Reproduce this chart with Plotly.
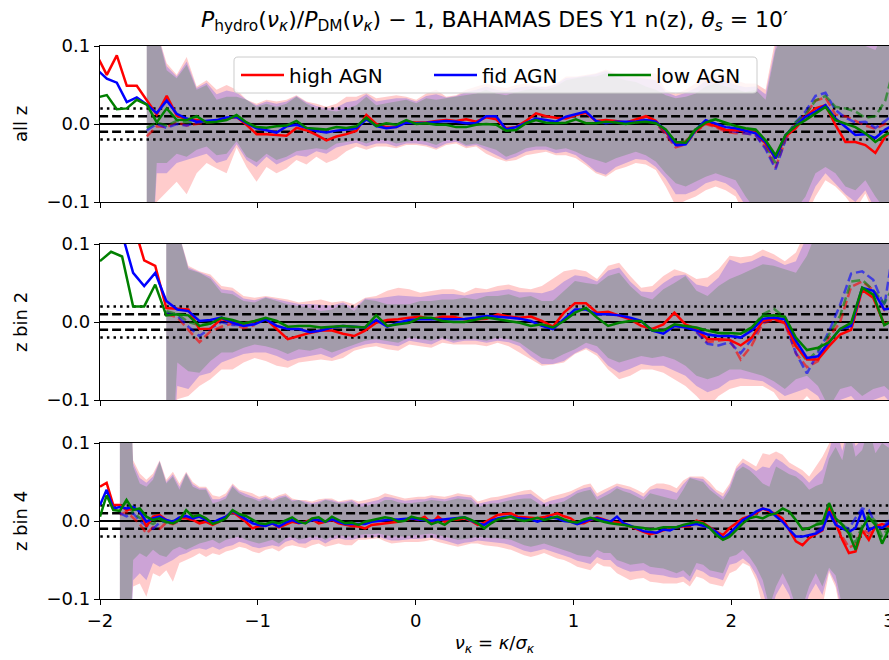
import numpy as np
import plotly.graph_objects as go

# ---------------- data ----------------
MODELS = ["high AGN", "fid AGN", "low AGN"]
LINE_COLORS = ["#ff0000", "#0000ff", "#008000"]
FILL_COLORS = ["rgba(255,0,0,0.2)", "rgba(0,0,255,0.2)", "rgba(0,128,0,0.2)"]
DASH_COLORS = ["rgba(255,0,0,0.6)", "rgba(0,0,255,0.6)", "rgba(0,128,0,0.6)"]
PANEL_LABELS = ["all z", "z bin 2", "z bin 4"]
X_TICKS = [-2, -1, 0, 1, 2, 3]
Y_TICKS = [-0.1, 0.0, 0.1]
REF_LEVELS = [0.02, -0.02, 0.01, -0.01, 0.0]
REF_STYLES = ["dot", "dot", "dash", "dash", "solid"]

# nu_kappa bin centres of each panel
NU_ALLZ = np.linspace(-2.02, 3.04, 81)
NU_BIN2 = np.linspace(-2.0, 3.04, 73)
NU_BIN4 = np.linspace(-2.0, 3.04, 121)

# ---- panel 1 : all z ----
ALLZ_HIGH = [0.088, 0.063, 0.088, 0.049, 0.049, 0.031, 0.012, 0.036, 0.011, 0.006,
             0.005, 0.003, 0.004, 0.007, 0.009, -0.001, -0.013, -0.013, -0.014, -0.015,
             -0.005, -0.008, -0.014, -0.021, -0.016, -0.013, -0.009, 0.0115, 0.0, -0.004,
             -0.004, 0.003, 0.002, 0.002, 0.004, 0.005, 0.004, 0.006, 0.003, 0.0085,
             0.006, -0.0055, -0.004, 0.004, 0.0137, 0.010, 0.008, 0.007, 0.0115, 0.0145,
             0.004, 0.005, 0.004, 0.002, 0.006, 0.010, 0.004, -0.011, -0.025, -0.023,
             -0.0085, 0.001, -0.0026, -0.0077, -0.0085, -0.0085, -0.011, -0.025, -0.044, -0.016,
             -0.0055, 0.0094, 0.020, 0.024, -0.001, -0.023, -0.023, -0.027, -0.037, -0.016,
             -0.005]
ALLZ_FID = [0.070, 0.058, 0.053, 0.028, 0.034, 0.025, 0.014, 0.030, 0.013, 0.007,
            0.003, 0.004, 0.005, 0.0085, 0.009, 0.001, -0.0055, -0.008, -0.011, -0.003,
            -0.001, -0.005, -0.009, -0.011, -0.0085, -0.007, -0.0055, 0.006, -0.0026, -0.0055,
            -0.004, 0.0017, 0.001, 0.0017, 0.003, 0.004, 0.003, 0.001, 0.001, 0.010,
            0.010, -0.0068, -0.004, 0.0017, 0.007, 0.005, 0.003, 0.0094, 0.0128, 0.016,
            0.004, 0.001, 0.003, 0.003, 0.003, 0.005, 0.003, -0.008, -0.027, -0.026,
            -0.0077, 0.005, 0.001, -0.004, -0.0055, -0.0085, -0.012, -0.023, -0.044, -0.014,
            -0.0026, 0.0094, 0.016, 0.024, 0.007, -0.004, -0.014, -0.013, -0.018, -0.007,
            0.0]
ALLZ_LOW = [0.034, 0.037, 0.019, 0.020, 0.031, 0.025, 0.002, 0.020, 0.0055, 0.005,
            0.010, 0.002, 0.003, 0.005, 0.0115, 0.002, -0.004, -0.0047, -0.003, -0.002,
            0.004, -0.005, -0.006, -0.007, -0.004, -0.005, -0.003, 0.008, -0.0026, 0.001,
            -0.001, 0.005, 0.0, 0.001, -0.001, -0.001, -0.004, -0.004, -0.001, 0.0,
            -0.001, -0.0085, -0.0077, 0.001, 0.005, 0.0017, 0.001, 0.0017, 0.006, 0.001,
            0.001, 0.003, 0.002, 0.0, 0.002, 0.003, 0.001, -0.007, -0.023, -0.024,
            -0.007, 0.0017, 0.006, 0.0017, -0.0026, -0.0055, -0.007, -0.021, -0.040, -0.014,
            -0.0026, 0.005, 0.0137, 0.022, 0.005, 0.001, -0.004, -0.012, -0.023, -0.014,
            -0.008]
ALLZ_BAND_START = 5
ALLZ_LOW_HI = [0.3, 0.12, 0.069, 0.0585, 0.076,
               0.044, 0.050, 0.031, 0.035, 0.035, 0.031, 0.022, 0.026, 0.022, 0.026,
               0.035, 0.026, 0.020, 0.018, 0.016, 0.020, 0.024, 0.035, 0.024, 0.0265,
               0.029, 0.031, 0.0265, 0.033, 0.031, 0.033, 0.035, 0.037, 0.039, 0.044,
               0.039, 0.037, 0.041, 0.044, 0.046, 0.044, 0.048, 0.056, 0.0585, 0.061,
               0.061, 0.065, 0.060, 0.056, 0.054, 0.048, 0.044, 0.037, 0.033, 0.035,
               0.039, 0.048, 0.052, 0.048, 0.044, 0.041, 0.044, 0.031, 0.095, 0.12,
               0.12, 0.12, 0.10, 0.12, 0.11, 0.10, 0.12, 0.10, 0.095, 0.12,
               0.12]
ALLZ_FID_HI = [0.3, 0.12, 0.074, 0.061, 0.080,
               0.046, 0.053, 0.038, 0.043, 0.040, 0.031, 0.024, 0.029, 0.026, 0.029,
               0.036, 0.028, 0.023, 0.020, 0.021, 0.028, 0.030, 0.038, 0.029, 0.031,
               0.033, 0.033, 0.029, 0.036, 0.038, 0.034, 0.036, 0.041, 0.044, 0.048,
               0.044, 0.042, 0.046, 0.048, 0.048, 0.047, 0.051, 0.059, 0.060, 0.062,
               0.064, 0.068, 0.063, 0.060, 0.060, 0.058, 0.056, 0.041, 0.036, 0.040,
               0.046, 0.055, 0.059, 0.055, 0.050, 0.047, 0.048, 0.038, 0.10, 0.125,
               0.125, 0.125, 0.11, 0.125, 0.12, 0.115, 0.125, 0.11, 0.11, 0.125,
               0.125]
ALLZ_HIGH_HI = [0.3, 0.12, 0.078, 0.063, 0.086,
                0.048, 0.056, 0.044, 0.050, 0.044, 0.031, 0.026, 0.031, 0.029, 0.031,
                0.037, 0.029, 0.026, 0.022, 0.026, 0.035, 0.035, 0.040, 0.033, 0.035,
                0.037, 0.035, 0.031, 0.039, 0.044, 0.035, 0.037, 0.044, 0.048, 0.052,
                0.048, 0.046, 0.050, 0.052, 0.048, 0.048, 0.052, 0.061, 0.061, 0.063,
                0.065, 0.070, 0.065, 0.063, 0.065, 0.065, 0.065, 0.044, 0.039, 0.044,
                0.052, 0.061, 0.065, 0.061, 0.056, 0.052, 0.052, 0.044, 0.11, 0.13,
                0.13, 0.13, 0.12, 0.13, 0.13, 0.13, 0.13, 0.12, 0.12, 0.13,
                0.13]
ALLZ_LOW_LO = [-0.3, -0.050, -0.050, -0.038, -0.042,
               -0.033, -0.029, -0.040, -0.038, -0.022, -0.042, -0.049, -0.038, -0.046, -0.042,
               -0.035, -0.033, -0.031, -0.033, -0.025, -0.023, -0.0205, -0.025, -0.0205, -0.0205,
               -0.025, -0.0226, -0.0205, -0.0226, -0.027, -0.0205, -0.0205, -0.027, -0.025, -0.029,
               -0.033, -0.042, -0.0376, -0.031, -0.029, -0.029, -0.033, -0.031, -0.0355, -0.042,
               -0.046, -0.050, -0.044, -0.040, -0.0355, -0.040, -0.048, -0.063, -0.076, -0.080,
               -0.074, -0.0675, -0.063, -0.0675, -0.072, -0.093, -0.11, -0.11, -0.11, -0.11,
               -0.11, -0.093, -0.063, -0.055, -0.063, -0.080, -0.085, -0.072, -0.093, -0.11,
               -0.11]
ALLZ_FID_LO = [-0.3, -0.063, -0.063, -0.050, -0.046,
               -0.042, -0.038, -0.050, -0.046, -0.026, -0.046, -0.055, -0.042, -0.052, -0.046,
               -0.040, -0.042, -0.035, -0.038, -0.030, -0.027, -0.024, -0.029, -0.025, -0.025,
               -0.029, -0.025, -0.025, -0.027, -0.031, -0.025, -0.0226, -0.029, -0.027, -0.033,
               -0.040, -0.046, -0.042, -0.0355, -0.033, -0.033, -0.0376, -0.0355, -0.040, -0.050,
               -0.061, -0.065, -0.055, -0.050, -0.045, -0.046, -0.055, -0.070, -0.090, -0.090,
               -0.085, -0.076, -0.072, -0.076, -0.085, -0.105, -0.12, -0.12, -0.12, -0.12,
               -0.12, -0.11, -0.080, -0.063, -0.076, -0.090, -0.100, -0.085, -0.11, -0.12,
               -0.12]
ALLZ_HIGH_LO = [-0.3, -0.100, -0.087, -0.074, -0.090,
                -0.063, -0.050, -0.057, -0.063, -0.030, -0.055, -0.074, -0.055, -0.063, -0.057,
                -0.046, -0.052, -0.042, -0.050, -0.045, -0.035, -0.029, -0.033, -0.029, -0.029,
                -0.031, -0.027, -0.027, -0.029, -0.033, -0.027, -0.025, -0.031, -0.029, -0.038,
                -0.044, -0.048, -0.046, -0.040, -0.0376, -0.0355, -0.040, -0.040, -0.044, -0.053,
                -0.063, -0.0675, -0.059, -0.055, -0.050, -0.052, -0.059, -0.080, -0.105, -0.098,
                -0.093, -0.085, -0.080, -0.085, -0.093, -0.12, -0.13, -0.13, -0.13, -0.13,
                -0.13, -0.12, -0.093, -0.072, -0.080, -0.093, -0.11, -0.089, -0.12, -0.13,
                -0.13]
# dashed (simulation mean) curves, given as (first bin index, values)
ALLZ_HIGH_DASH = [(5, [-0.016, -0.003, -0.004, 0.002, -0.002, 0.0, 0.002, 0.003]),
                  (54, [0.005, 0.008, 0.002, -0.014, -0.030, -0.026, -0.010, 0.0, -0.004, -0.010,
                        -0.012, -0.012, -0.014, -0.030, -0.056, -0.020, 0.0, 0.012, 0.030, 0.034,
                        0.012, 0.010, 0.004, -0.002, -0.006, 0.0, 0.010])]
ALLZ_FID_DASH = [(5, [-0.008, 0.0, -0.005, 0.0, -0.002, 0.002, 0.003, 0.004]),
                 (54, [0.004, 0.006, 0.002, -0.012, -0.028, -0.026, -0.008, 0.002, -0.002, -0.008,
                       -0.010, -0.012, -0.014, -0.032, -0.058, -0.020, 0.002, 0.016, 0.036, 0.040,
                       0.018, 0.008, 0.002, 0.003, -0.005, 0.004, 0.014])]
ALLZ_LOW_DASH = [(5, [-0.005, 0.002, -0.002, 0.004, 0.002, 0.004, 0.002, 0.003]),
                 (54, [0.002, 0.004, 0.001, -0.010, -0.024, -0.022, -0.006, 0.004, 0.006, 0.0,
                       -0.004, -0.006, -0.010, -0.026, -0.050, -0.016, 0.002, 0.012, 0.030, 0.036,
                       0.022, 0.020, 0.016, 0.008, 0.010, 0.030, 0.080])]

# ---- panel 2 : z bin 2 ----
BIN2_HIGH = [0.16, 0.15, 0.14, 0.127, 0.079, 0.072, 0.018, 0.017, 0.016, -0.009,
             -0.0085, 0.004, -0.001, -0.002, 0.001, 0.004, -0.009, -0.022, -0.018, -0.014,
             -0.011, -0.011, -0.015, -0.018, -0.011, -0.001, 0.0026, 0.0034, 0.0056, 0.0068,
             0.004, 0.0068, 0.0068, 0.0034, 0.0034, 0.004, 0.010, 0.007, 0.0056, 0.007,
             0.0013, -0.006, 0.012, 0.024, 0.024, 0.012, 0.013, 0.0077, 0.0034, -0.005,
             -0.009, -0.003, 0.012, -0.003, -0.009, -0.022, -0.022, -0.023, -0.030, -0.020,
             0.0013, 0.004, -0.001, -0.031, -0.048, -0.048, -0.031, -0.016, -0.010, 0.041,
             0.031, -0.003, 0.003]
BIN2_FID = [0.14, 0.13, 0.113, 0.063, 0.046, 0.063, 0.027, 0.016, 0.014, 0.0013,
            0.0026, 0.0056, -0.001, -0.005, -0.003, 0.0034, -0.005, -0.009, -0.009, -0.013,
            -0.011, -0.007, -0.005, -0.006, -0.007, 0.0026, -0.006, -0.001, 0.0026, 0.0034,
            0.004, 0.004, 0.0034, 0.004, 0.0056, 0.0077, 0.0068, 0.0056, 0.0043, 0.0013,
            -0.005, -0.009, 0.0034, 0.016, 0.016, 0.0098, 0.0098, 0.0085, 0.0056, 0.0013,
            -0.011, -0.015, -0.005, -0.007, -0.011, -0.016, -0.018, -0.018, -0.020, -0.011,
            0.004, 0.0056, 0.0034, -0.024, -0.046, -0.044, -0.026, -0.009, -0.005, 0.044,
            0.040, 0.016, 0.018]
BIN2_LOW = [0.078, 0.090, 0.084, 0.020, 0.020, 0.048, 0.0085, 0.010, 0.0085, -0.005,
            -0.002, 0.0055, 0.0026, -0.002, 0.0013, 0.0055, 0.0013, -0.006, -0.005, -0.005,
            -0.007, -0.006, -0.005, -0.006, -0.007, 0.0085, -0.005, -0.003, -0.001, 0.0055,
            0.0055, 0.0013, 0.0, 0.0, 0.0026, 0.0056, 0.0034, 0.0013, -0.001, -0.005,
            -0.003, -0.007, 0.0013, 0.012, 0.018, 0.0056, -0.005, -0.001, 0.0013, 0.0013,
            -0.011, -0.011, -0.003, -0.005, -0.007, -0.011, -0.014, -0.014, -0.015, -0.007,
            0.0077, 0.0085, 0.0068, -0.020, -0.036, -0.033, -0.026, -0.009, -0.001, 0.044,
            0.035, -0.004, 0.004]
BIN2_BAND_START = 6
BIN2_LOW_HI = [0.3, 0.12, 0.0675, 0.063,
               0.055, 0.0376, 0.0355, 0.027, 0.025, 0.031, 0.027, 0.0226, 0.0205, 0.018,
               0.014, 0.016, 0.0226, 0.014, 0.029, 0.027, 0.0226, 0.0226, 0.0226, 0.027,
               0.027, 0.029, 0.029, 0.031, 0.029, 0.0333, 0.0333, 0.0355, 0.031, 0.0333,
               0.027, 0.027, 0.040, 0.0525, 0.050, 0.048, 0.059, 0.063, 0.046, 0.0333,
               0.029, 0.042, 0.050, 0.059, 0.040, 0.0333, 0.046, 0.055, 0.061, 0.0675,
               0.074, 0.072, 0.0675, 0.063, 0.085, 0.12, 0.12, 0.12, 0.12, 0.12,
               0.12, 0.12, 0.12]
BIN2_FID_HI = [0.3, 0.12, 0.070, 0.064,
               0.058, 0.042, 0.040, 0.030, 0.028, 0.032, 0.029, 0.026, 0.023, 0.023,
               0.022, 0.021, 0.025, 0.018, 0.030, 0.030, 0.032, 0.034, 0.033, 0.032,
               0.034, 0.036, 0.036, 0.034, 0.037, 0.038, 0.040, 0.042, 0.038, 0.038,
               0.037, 0.041, 0.052, 0.060, 0.058, 0.052, 0.066, 0.070, 0.052, 0.039,
               0.038, 0.050, 0.059, 0.061, 0.048, 0.045, 0.057, 0.080, 0.075, 0.078,
               0.085, 0.080, 0.073, 0.078, 0.11, 0.125, 0.125, 0.125, 0.125, 0.125,
               0.125, 0.125, 0.125]
BIN2_HIGH_HI = [0.3, 0.12, 0.072, 0.065,
                0.061, 0.046, 0.044, 0.0333, 0.031, 0.0333, 0.031, 0.029, 0.025, 0.027,
                0.029, 0.025, 0.027, 0.0226, 0.031, 0.0333, 0.040, 0.044, 0.042, 0.0376,
                0.040, 0.042, 0.042, 0.0376, 0.044, 0.042, 0.046, 0.048, 0.044, 0.042,
                0.046, 0.055, 0.065, 0.0675, 0.065, 0.055, 0.072, 0.076, 0.059, 0.044,
                0.046, 0.059, 0.0675, 0.063, 0.055, 0.057, 0.0675, 0.085, 0.083, 0.085,
                0.093, 0.087, 0.078, 0.089, 0.12, 0.13, 0.13, 0.13, 0.13, 0.13,
                0.13, 0.13, 0.13]
BIN2_LOW_LO = [-0.3, -0.052, -0.063, -0.065,
               -0.050, -0.039, -0.039, -0.033, -0.029, -0.031, -0.035, -0.041, -0.035, -0.037,
               -0.033, -0.039, -0.035, -0.029, -0.024, -0.022, -0.024, -0.0265, -0.020, -0.022,
               -0.024, -0.020, -0.024, -0.022, -0.022, -0.024, -0.020, -0.022, -0.0265, -0.037,
               -0.046, -0.048, -0.041, -0.035, -0.0265, -0.031, -0.046, -0.052, -0.048, -0.0436,
               -0.046, -0.0436, -0.048, -0.056, -0.069, -0.0735, -0.069, -0.061, -0.061, -0.065,
               -0.069, -0.076, -0.086, -0.0735, -0.069, -0.082, -0.11, -0.086, -0.082, -0.095,
               -0.086, -0.082, -0.095]
BIN2_FID_LO = [-0.3, -0.082, -0.086, -0.069,
               -0.065, -0.052, -0.046, -0.041, -0.039, -0.039, -0.0436, -0.050, -0.046, -0.0436,
               -0.041, -0.046, -0.039, -0.033, -0.029, -0.0265, -0.029, -0.031, -0.024, -0.0265,
               -0.029, -0.022, -0.0265, -0.024, -0.024, -0.0265, -0.024, -0.026, -0.031, -0.044,
               -0.054, -0.054, -0.050, -0.040, -0.033, -0.040, -0.056, -0.065, -0.060, -0.054,
               -0.056, -0.056, -0.062, -0.069, -0.082, -0.090, -0.085, -0.075, -0.072, -0.074,
               -0.076, -0.085, -0.095, -0.090, -0.085, -0.095, -0.12, -0.10, -0.095, -0.11,
               -0.10, -0.095, -0.11]
BIN2_HIGH_LO = [-0.3, -0.099, -0.095, -0.082,
                -0.0735, -0.061, -0.061, -0.052, -0.046, -0.050, -0.056, -0.0585, -0.052, -0.050,
                -0.048, -0.050, -0.046, -0.037, -0.033, -0.031, -0.035, -0.037, -0.029, -0.031,
                -0.033, -0.0265, -0.029, -0.029, -0.029, -0.031, -0.0265, -0.031, -0.039, -0.048,
                -0.056, -0.0545, -0.052, -0.041, -0.035, -0.0436, -0.061, -0.0735, -0.069, -0.061,
                -0.061, -0.065, -0.0735, -0.082, -0.095, -0.11, -0.095, -0.086, -0.082, -0.082,
                -0.082, -0.09, -0.11, -0.11, -0.095, -0.11, -0.13, -0.12, -0.11, -0.12,
                -0.12, -0.11, -0.12]
BIN2_HIGH_DASH = [(6, [0.010, 0.006, -0.010, -0.026, -0.012, -0.006, -0.002, -0.008, -0.004]),
                  (54, [-0.012, -0.026, -0.024, -0.022, -0.048, -0.030, -0.002, 0.003, -0.002, -0.040,
                        -0.058, -0.050, -0.020, 0.0, 0.045, 0.052, 0.041, 0.015, 0.010])]
BIN2_FID_DASH = [(6, [0.012, 0.008, -0.006, -0.018, -0.008, 0.0, -0.004, -0.004, -0.002]),
                 (54, [-0.013, -0.028, -0.030, -0.026, -0.040, -0.022, 0.0, 0.004, 0.0, -0.040,
                       -0.066, -0.040, -0.012, 0.022, 0.062, 0.065, 0.054, 0.020, 0.11])]
BIN2_LOW_DASH = [(6, [0.014, 0.010, 0.0, -0.004, -0.002, 0.004, 0.0, -0.002, 0.0]),
                 (54, [-0.008, -0.016, -0.018, -0.016, -0.020, -0.008, 0.010, 0.017, 0.006, -0.030,
                       -0.050, -0.036, -0.016, 0.008, 0.052, 0.054, 0.041, 0.024, 0.050])]

# ---- panel 3 : z bin 4 ----
BIN4_HIGH = [0.044, 0.049, 0.0205, 0.0205, 0.014, 0.016, 0.014, -0.007, 0.0056, 0.0077,
             0.0013, -0.003, 0.0034, 0.0034, 0.0013, -0.003, -0.001, -0.005, -0.001, 0.0056,
             0.012, 0.0056, -0.001, -0.0094, -0.0064, -0.005, -0.003, -0.008, -0.005, -0.001,
             -0.003, -0.001, 0.002, -0.003, -0.001, 0.0013, -0.003, -0.005, -0.0064, -0.007,
             -0.0094, -0.005, -0.004, -0.003, -0.002, -0.001, 0.001, 0.0034, 0.0013, 0.0055,
             -0.003, 0.0055, -0.001, 0.002, 0.002, 0.0034, 0.0, -0.005, -0.002, 0.003,
             0.0077, 0.009, 0.0098, 0.0056, 0.0047, 0.004, 0.0034, 0.005, 0.0077, 0.0098,
             0.006, 0.0034, -0.003, -0.003, 0.001, 0.0047, 0.002, -0.001, -0.002, -0.003,
             -0.007, -0.011, -0.014, -0.017, -0.015, -0.012, -0.010, -0.008, -0.007, -0.0064,
             0.0004, -0.002, -0.008, -0.0137, -0.018, -0.009, -0.003, 0.0034, 0.006, 0.010,
             0.016, 0.012, 0.009, 0.003, -0.012, -0.026, -0.031, -0.022, -0.017, -0.012,
             0.018, -0.003, -0.024, -0.041, -0.039, -0.012, -0.024, -0.007, -0.004, -0.007,
             -0.003]
BIN4_FID = [0.0205, 0.040, 0.016, 0.018, 0.016, 0.018, 0.012, -0.0009, 0.0034, 0.0056,
            0.0013, -0.0009, 0.0047, 0.0064, 0.0034, 0.0056, 0.0013, -0.0021, 0.0021, 0.0056,
            0.013, 0.0077, 0.0034, -0.003, -0.005, -0.0064, -0.003, -0.0073, -0.0021, 0.0013,
            -0.0021, -0.0021, 0.0013, 0.0013, -0.0009, 0.0021, -0.0009, -0.0038, -0.0038, -0.004,
            -0.004, -0.001, 0.0, 0.0013, 0.002, 0.002, 0.003, 0.0034, 0.002, 0.0013,
            0.0004, 0.0013, 0.002, 0.0034, 0.004, 0.0047, 0.0004, -0.003, -0.005, 0.0004,
            0.0034, 0.005, 0.0056, 0.0034, 0.003, 0.002, -0.001, 0.002, 0.0047, 0.0034,
            0.0, -0.001, -0.004, -0.001, 0.002, 0.0034, 0.001, -0.001, 0.0056, -0.003,
            -0.006, -0.009, -0.013, -0.014, -0.015, -0.011, -0.012, -0.008, -0.006, -0.005,
            -0.004, -0.006, -0.009, -0.014, -0.022, -0.016, -0.007, 0.0013, 0.006, 0.012,
            0.016, 0.014, 0.006, -0.001, -0.011, -0.020, -0.020, -0.018, -0.016, -0.011,
            0.012, -0.005, -0.009, -0.014, -0.009, 0.014, -0.012, -0.007, -0.009, -0.003,
            0.0]
BIN4_LOW = [0.0055, 0.033, 0.014, 0.013, 0.027, 0.014, 0.016, 0.0056, 0.0013, 0.0034,
            -0.0009, -0.003, 0.0013, 0.014, 0.0056, 0.0077, 0.0034, -0.0038, -0.0009, 0.0034,
            0.014, 0.009, 0.0064, 0.0013, -0.003, -0.0038, -0.0009, -0.003, 0.0013, 0.0047,
            -0.0009, -0.003, 0.0034, 0.0047, -0.0009, 0.0056, 0.0013, -0.003, -0.0021, -0.005,
            -0.0009, 0.0013, 0.0034, 0.0047, 0.0034, -0.0009, 0.0004, 0.0055, 0.0034, 0.002,
            -0.004, -0.001, -0.005, 0.0013, 0.0034, 0.0047, 0.0013, -0.003, -0.0094, -0.003,
            0.002, 0.004, 0.0056, 0.002, 0.0, 0.002, 0.004, 0.0013, 0.003, 0.0056,
            0.002, -0.001, -0.002, 0.002, 0.004, 0.0013, -0.001, -0.003, -0.004, -0.005,
            -0.007, -0.008, -0.009, -0.011, -0.010, -0.008, -0.008, -0.008, -0.005, -0.003,
            -0.001, -0.003, -0.009, -0.018, -0.024, -0.020, -0.011, -0.003, 0.0034, 0.0056,
            0.0034, 0.0077, 0.0098, 0.016, 0.012, 0.0013, -0.011, -0.009, -0.005, -0.003,
            0.023, 0.0034, -0.005, -0.016, -0.037, -0.009, 0.0047, -0.005, -0.029, -0.011,
            -0.005]
BIN4_BAND_START = 3
BIN4_LOW_HI = [0.3, 0.3, 0.070, 0.048, 0.044, 0.053, 0.076,
               0.048, 0.057, 0.040, 0.061, 0.044, 0.040, 0.040, 0.0226, 0.025, 0.029,
               0.044, 0.0355, 0.031, 0.029, 0.025, 0.029, 0.025, 0.029, 0.031, 0.025,
               0.027, 0.0226, 0.0205, 0.0226, 0.027, 0.025, 0.0226, 0.0226, 0.025, 0.018,
               0.019, 0.021, 0.0226, 0.027, 0.027, 0.024, 0.0226, 0.023, 0.024, 0.025,
               0.027, 0.026, 0.025, 0.027, 0.029, 0.028, 0.027, 0.018, 0.020, 0.0226,
               0.0226, 0.025, 0.027, 0.028, 0.029, 0.029, 0.024, 0.018, 0.021, 0.023,
               0.025, 0.030, 0.0355, 0.038, 0.040, 0.027, 0.031, 0.0355, 0.042, 0.038,
               0.0355, 0.031, 0.027, 0.0355, 0.033, 0.031, 0.029, 0.027, 0.040, 0.055,
               0.052, 0.050, 0.040, 0.033, 0.027, 0.040, 0.063, 0.070, 0.065, 0.057,
               0.048, 0.044, 0.070, 0.065, 0.060, 0.057, 0.050, 0.040, 0.045, 0.048,
               0.080, 0.095, 0.078, 0.12, 0.0825, 0.091, 0.12, 0.087, 0.10, 0.094,
               0.12]
BIN4_FID_HI = [0.3, 0.3, 0.074, 0.055, 0.049, 0.057, 0.077,
               0.050, 0.060, 0.044, 0.062, 0.047, 0.042, 0.042, 0.028, 0.028, 0.032,
               0.046, 0.038, 0.035, 0.032, 0.028, 0.031, 0.027, 0.031, 0.033, 0.027,
               0.027, 0.025, 0.023, 0.025, 0.028, 0.027, 0.024, 0.025, 0.027, 0.022,
               0.023, 0.025, 0.027, 0.031, 0.030, 0.028, 0.026, 0.027, 0.028, 0.028,
               0.030, 0.029, 0.028, 0.030, 0.032, 0.031, 0.030, 0.022, 0.024, 0.026,
               0.027, 0.029, 0.031, 0.033, 0.034, 0.035, 0.029, 0.023, 0.026, 0.028,
               0.030, 0.034, 0.039, 0.042, 0.044, 0.031, 0.036, 0.040, 0.045, 0.042,
               0.040, 0.036, 0.031, 0.040, 0.042, 0.041, 0.039, 0.036, 0.047, 0.056,
               0.055, 0.054, 0.045, 0.037, 0.031, 0.045, 0.067, 0.075, 0.070, 0.064,
               0.070, 0.068, 0.080, 0.075, 0.068, 0.064, 0.058, 0.049, 0.058, 0.066,
               0.090, 0.12, 0.09, 0.125, 0.096, 0.105, 0.125, 0.10, 0.11, 0.10,
               0.125]
BIN4_HIGH_HI = [0.3, 0.3, 0.078, 0.061, 0.053, 0.061, 0.078,
                0.053, 0.063, 0.048, 0.063, 0.050, 0.044, 0.044, 0.033, 0.031, 0.0355,
                0.048, 0.040, 0.038, 0.0355, 0.031, 0.033, 0.029, 0.033, 0.0355, 0.029,
                0.027, 0.027, 0.025, 0.028, 0.029, 0.029, 0.025, 0.027, 0.028, 0.025,
                0.027, 0.029, 0.031, 0.0355, 0.033, 0.031, 0.029, 0.030, 0.031, 0.031,
                0.033, 0.032, 0.031, 0.033, 0.0355, 0.034, 0.033, 0.025, 0.028, 0.030,
                0.031, 0.033, 0.0355, 0.037, 0.039, 0.040, 0.033, 0.027, 0.031, 0.033,
                0.0355, 0.038, 0.042, 0.046, 0.048, 0.0355, 0.040, 0.044, 0.048, 0.046,
                0.044, 0.040, 0.0355, 0.044, 0.048, 0.048, 0.046, 0.042, 0.052, 0.057,
                0.057, 0.057, 0.050, 0.040, 0.0355, 0.048, 0.070, 0.080, 0.075, 0.070,
                0.087, 0.085, 0.089, 0.085, 0.075, 0.070, 0.065, 0.057, 0.070, 0.0825,
                0.099, 0.13, 0.10, 0.13, 0.11, 0.12, 0.13, 0.11, 0.12, 0.11,
                0.13]
BIN4_LOW_LO = [-0.3, -0.3, -0.050, -0.0415, -0.046, -0.037, -0.0436,
               -0.046, -0.037, -0.033, -0.037, -0.033, -0.029, -0.0265, -0.024, -0.029, -0.024,
               -0.022, -0.020, -0.024, -0.0265, -0.029, -0.0265, -0.024, -0.029, -0.022, -0.020,
               -0.024, -0.022, -0.020, -0.020, -0.024, -0.020, -0.018, -0.020, -0.020, -0.018,
               -0.017, -0.017, -0.016, -0.018, -0.020, -0.020, -0.020, -0.019, -0.018, -0.017,
               -0.016, -0.018, -0.020, -0.022, -0.024, -0.023, -0.022, -0.020, -0.021, -0.022,
               -0.022, -0.023, -0.024, -0.027, -0.031, -0.033, -0.031, -0.029, -0.031, -0.035,
               -0.037, -0.040, -0.0435, -0.045, -0.046, -0.037, -0.041, -0.041, -0.050, -0.053,
               -0.056, -0.055, -0.054, -0.0585, -0.060, -0.061, -0.064, -0.067, -0.063, -0.071,
               -0.054, -0.056, -0.063, -0.065, -0.067, -0.046, -0.0435, -0.037, -0.046, -0.0585,
               -0.076, -0.11, -0.084, -0.067, -0.084, -0.11, -0.11, -0.084, -0.067, -0.084,
               -0.060, -0.070, -0.11, -0.11, -0.11, -0.11, -0.11, -0.11, -0.11, -0.11,
               -0.11]
BIN4_FID_LO = [-0.3, -0.3, -0.076, -0.067, -0.076, -0.054, -0.0585,
               -0.054, -0.050, -0.044, -0.0415, -0.037, -0.035, -0.037, -0.033, -0.037, -0.033,
               -0.031, -0.0265, -0.029, -0.033, -0.035, -0.033, -0.031, -0.033, -0.0265, -0.024,
               -0.029, -0.029, -0.024, -0.024, -0.029, -0.024, -0.022, -0.024, -0.024, -0.022,
               -0.021, -0.021, -0.020, -0.023, -0.025, -0.025, -0.024, -0.023, -0.023, -0.022,
               -0.021, -0.023, -0.025, -0.027, -0.030, -0.028, -0.027, -0.025, -0.026, -0.027,
               -0.028, -0.029, -0.031, -0.034, -0.038, -0.040, -0.038, -0.036, -0.038, -0.042,
               -0.044, -0.047, -0.051, -0.053, -0.055, -0.046, -0.050, -0.050, -0.058, -0.062,
               -0.065, -0.064, -0.063, -0.068, -0.069, -0.070, -0.072, -0.073, -0.071, -0.078,
               -0.062, -0.065, -0.071, -0.073, -0.076, -0.056, -0.054, -0.048, -0.055, -0.069,
               -0.09, -0.12, -0.095, -0.08, -0.095, -0.12, -0.12, -0.095, -0.08, -0.095,
               -0.063, -0.08, -0.12, -0.12, -0.12, -0.12, -0.12, -0.12, -0.12, -0.12,
               -0.12]
BIN4_HIGH_LO = [-0.3, -0.3, -0.084, -0.080, -0.097, -0.067, -0.071,
                -0.063, -0.078, -0.054, -0.050, -0.046, -0.0415, -0.046, -0.0415, -0.0436, -0.039,
                -0.037, -0.033, -0.035, -0.039, -0.0415, -0.037, -0.035, -0.039, -0.033, -0.031,
                -0.033, -0.035, -0.031, -0.029, -0.033, -0.031, -0.029, -0.031, -0.031, -0.024,
                -0.024, -0.023, -0.022, -0.026, -0.029, -0.028, -0.027, -0.027, -0.027, -0.026,
                -0.024, -0.027, -0.029, -0.031, -0.033, -0.031, -0.029, -0.029, -0.031, -0.032,
                -0.033, -0.035, -0.037, -0.040, -0.044, -0.046, -0.044, -0.041, -0.044, -0.048,
                -0.050, -0.054, -0.0585, -0.061, -0.063, -0.054, -0.058, -0.0585, -0.067, -0.071,
                -0.076, -0.074, -0.073, -0.078, -0.079, -0.080, -0.080, -0.080, -0.078, -0.084,
                -0.071, -0.074, -0.080, -0.082, -0.084, -0.067, -0.063, -0.054, -0.058, -0.076,
                -0.11, -0.13, -0.11, -0.10, -0.11, -0.13, -0.13, -0.11, -0.10, -0.11,
                -0.066, -0.085, -0.13, -0.13, -0.13, -0.13, -0.13, -0.13, -0.13, -0.13,
                -0.13]
BIN4_HIGH_DASH = [(3, [0.008, 0.012, 0.004, -0.004, -0.016, -0.008, -0.010, -0.002, -0.004, 0.0]),
                  (108, [-0.014, -0.010, 0.010, -0.004, -0.020, -0.034, -0.030, -0.010, -0.016, -0.006,
                         -0.008, -0.004, 0.0])]
BIN4_FID_DASH = [(3, [0.010, 0.006, 0.010, 0.0, -0.006, -0.010, -0.002, 0.0, -0.004, 0.002]),
                 (108, [-0.014, -0.008, 0.008, -0.002, -0.006, -0.010, 0.004, 0.016, 0.014, -0.004,
                        -0.008, 0.0, 0.004])]
BIN4_LOW_DASH = [(3, [0.016, 0.024, 0.010, 0.004, 0.0, -0.004, 0.002, -0.002, 0.0, 0.002]),
                 (108, [-0.004, 0.0, 0.018, 0.004, -0.004, -0.012, -0.028, -0.006, 0.008, 0.0,
                        -0.020, -0.008, -0.002])]

PANELS = [
    dict(x=NU_ALLZ, lines=[ALLZ_HIGH, ALLZ_FID, ALLZ_LOW], start=ALLZ_BAND_START,
         bands=[(ALLZ_HIGH_LO, ALLZ_HIGH_HI), (ALLZ_FID_LO, ALLZ_FID_HI), (ALLZ_LOW_LO, ALLZ_LOW_HI)],
         dashed=[ALLZ_HIGH_DASH, ALLZ_FID_DASH, ALLZ_LOW_DASH]),
    dict(x=NU_BIN2, lines=[BIN2_HIGH, BIN2_FID, BIN2_LOW], start=BIN2_BAND_START,
         bands=[(BIN2_HIGH_LO, BIN2_HIGH_HI), (BIN2_FID_LO, BIN2_FID_HI), (BIN2_LOW_LO, BIN2_LOW_HI)],
         dashed=[BIN2_HIGH_DASH, BIN2_FID_DASH, BIN2_LOW_DASH]),
    dict(x=NU_BIN4, lines=[BIN4_HIGH, BIN4_FID, BIN4_LOW], start=BIN4_BAND_START,
         bands=[(BIN4_HIGH_LO, BIN4_HIGH_HI), (BIN4_FID_LO, BIN4_FID_HI), (BIN4_LOW_LO, BIN4_LOW_HI)],
         dashed=[BIN4_HIGH_DASH, BIN4_FID_DASH, BIN4_LOW_DASH]),
]

# ---------------- figure ----------------
FONT = "DejaVu Sans"
fig = go.Figure()
LEGENDS = ["legend", "legend2", "legend3"]

for pi, P in enumerate(PANELS):
    xa = "x" if pi == 0 else "x%d" % (pi + 1)
    ya = "y" if pi == 0 else "y%d" % (pi + 1)
    x = list(P["x"])
    n = len(x)
    for ln in P["lines"]:
        if len(ln) != n:
            raise ValueError("line length mismatch in panel %d: %d vs %d" % (pi, len(ln), n))
    xs = x[P["start"]:]
    # bands
    for m, (lo, hi) in enumerate(P["bands"]):
        if len(lo) != len(xs) or len(hi) != len(xs):
            raise ValueError("band length mismatch panel %d model %d: %d %d %d" % (pi, m, len(lo), len(hi), len(xs)))
        fig.add_trace(go.Scatter(
            x=xs + xs[::-1], y=list(hi) + list(lo)[::-1], xaxis=xa, yaxis=ya,
            mode="lines", fill="toself", fillcolor=FILL_COLORS[m],
            line=dict(width=0, color="rgba(0,0,0,0)"), hoverinfo="skip", showlegend=False))
    # reference levels
    for lvl, sty in zip(REF_LEVELS, REF_STYLES):
        dash = {"solid": "solid", "dash": "9px,4px", "dot": "2.5px,4.1px"}[sty]
        fig.add_trace(go.Scatter(
            x=[-2.5, 3.5], y=[lvl, lvl], xaxis=xa, yaxis=ya, mode="lines",
            line=dict(color="black", width=2.0 if sty == "solid" else 2.5, dash=dash),
            hoverinfo="skip", showlegend=False))
    # dashed curves
    for m, segs in enumerate(P["dashed"]):
        for i0, vals in segs:
            fig.add_trace(go.Scatter(
                x=x[i0:i0 + len(vals)], y=vals, xaxis=xa, yaxis=ya, mode="lines",
                line=dict(color=DASH_COLORS[m], width=2.5, dash="9px,4px"),
                hoverinfo="skip", showlegend=False))
    # solid curves
    for m, ln in enumerate(P["lines"]):
        fig.add_trace(go.Scatter(
            x=x, y=ln, xaxis=xa, yaxis=ya, mode="lines", name=MODELS[m],
            line=dict(color=LINE_COLORS[m], width=2.5),
            showlegend=(pi == 0), legend=LEGENDS[m]))

# layout geometry (pixel based)
W, H = 889, 660
ML, MR, MT, MB = 100, 0, 46, 61
ph = H - MT - MB
panel_px = [(46, 202), (244, 400), (443, 599)]
domains = [[(H - MB - b) / ph, (H - MB - t) / ph] for (t, b) in panel_px]

axis_common = dict(showgrid=False, zeroline=False, showline=True, mirror=True,
                   linecolor="black", linewidth=1.3, ticks="outside", ticklen=5,
                   tickwidth=1.3, tickcolor="black", automargin=False,
                   tickfont=dict(family=FONT, size=18, color="black"))
layout = dict(
    width=W, height=H, margin=dict(l=ML, r=MR, t=MT, b=MB, autoexpand=False),
    paper_bgcolor="white", plot_bgcolor="white",
    font=dict(family=FONT, color="black"),
    title=dict(
        text=("<i>P</i><sub>hydro</sub>(<i>ν<sub>κ</sub></i>)/<i>P</i><sub>DM</sub>(<i>ν<sub>κ</sub></i>)"
              " − 1, BAHAMAS DES Y1 n(z), <i>θ<sub>s</sub></i> = 10′"),
        font=dict(family=FONT, size=22, color="black"),
        x=0.5, xref="paper", xanchor="center", y=1 - 19 / H, yref="container", yanchor="middle"),
)
for pi in range(3):
    xk = "xaxis" if pi == 0 else "xaxis%d" % (pi + 1)
    yk = "yaxis" if pi == 0 else "yaxis%d" % (pi + 1)
    ya = "y" if pi == 0 else "y%d" % (pi + 1)
    xa = "x" if pi == 0 else "x%d" % (pi + 1)
    xax = dict(axis_common, domain=[0, 1], anchor=ya, range=[-2, 3], tickvals=X_TICKS,
               showticklabels=(pi == 2), ticklabeloverflow="allow")
    if pi == 2:
        xax["title"] = dict(text="<i>ν<sub>κ</sub></i> = <i>κ</i>/<i>σ<sub>κ</sub></i>",
                            font=dict(family=FONT, size=18, color="black"), standoff=6)
    layout[xk] = xax
    layout[yk] = dict(axis_common, domain=domains[pi], anchor=xa, range=[-0.1, 0.1],
                      tickvals=Y_TICKS, tickformat=".1f",
                      title=dict(text=PANEL_LABELS[pi], font=dict(family=FONT, size=18, color="black"),
                                 standoff=14))

# legend: framed box + three single-entry legends
box = (234, 57, 757, 93)
pw = W - ML - MR
def px_x(v):
    return (v - ML) / pw
def px_y(v):
    return (H - MB - v) / ph
x0, x1 = px_x(box[0]), px_x(box[2])
yt, yb = px_y(box[1]), px_y(box[3])
rx, ry = 4 / pw, 4 / ph
path = ("M %f,%f L %f,%f Q %f,%f %f,%f L %f,%f Q %f,%f %f,%f L %f,%f Q %f,%f %f,%f L %f,%f Q %f,%f %f,%f Z" % (
    x0 + rx, yt, x1 - rx, yt, x1, yt, x1, yt - ry, x1, yb + ry, x1, yb, x1 - rx, yb,
    x0 + rx, yb, x0, yb, x0, yb + ry, x0, yt - ry, x0, yt, x0 + rx, yt))
layout["shapes"] = [dict(type="path", path=path, xref="paper", yref="paper", layer="above",
                         fillcolor="rgba(255,255,255,0.8)", line=dict(color="#cccccc", width=1))]
leg_common = dict(orientation="h", xanchor="left", yanchor="middle", bgcolor="rgba(0,0,0,0)",
                  borderwidth=0, font=dict(family=FONT, size=20, color="black"), itemwidth=43)
legend_px = [236, 429, 603]
for k, lx in zip(LEGENDS, legend_px):
    layout[k] = dict(leg_common, x=px_x(lx), y=px_y(75))

fig.update_layout(**layout)
fig.write_html("out.html")
